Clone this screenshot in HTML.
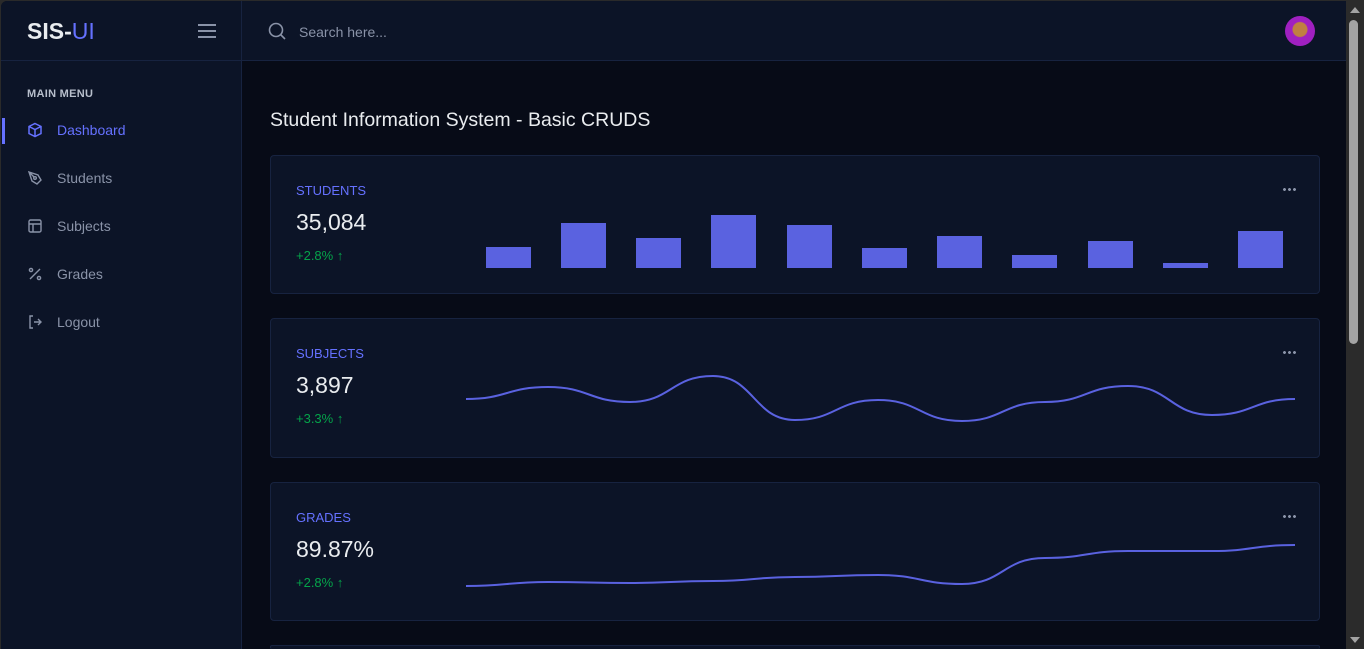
<!DOCTYPE html>
<html><head><meta charset="utf-8"><style>
*{box-sizing:border-box;margin:0;padding:0}
html,body{width:1364px;height:649px;overflow:hidden}
body{background:#2a2a2a;font-family:"Liberation Sans",sans-serif;position:relative}
.win{position:absolute;left:1px;top:1px;width:1345px;height:648px;background:#070b17;overflow:hidden;border-radius:6px 0 0 0}
.side{position:absolute;left:0;top:0;width:241px;height:648px;background:#0c1427;border-right:1px solid #172340}
.logo{height:60px;border-bottom:1px solid #172340;padding:17px 26px;font-size:23px;font-weight:bold;color:#e9ecef}
.logo span{color:#6571ff;font-weight:normal}
.ham{position:absolute;left:197px;top:23px;width:18px}
.ham i{display:block;height:2px;background:#8a93a8;margin-bottom:4px}
.mm{position:absolute;left:26px;top:87px;font-size:11px;font-weight:bold;color:#b8bfcc;letter-spacing:.3px}
.item{position:absolute;left:26px;font-size:14px;color:#8a93a8;display:flex;align-items:center}
.item svg{width:16px;height:16px;margin-right:14px}
.act{color:#6571ff}
.bar{position:absolute;left:1px;top:117px;width:3px;height:26px;background:#6571ff}
.top{position:absolute;left:241px;top:0;right:0;height:60px;background:#0c1427;border-bottom:1px solid #172340}
.search{position:absolute;left:57px;top:23px;font-size:14px;color:#8a93a8}
.av{position:absolute;left:1043px;top:15px;width:30px;height:30px;border-radius:50%;background:radial-gradient(circle at 50% 45%,#c08040 0 7px,#a020c0 8px)}
h1{position:absolute;left:269px;top:108px;font-size:19.5px;font-weight:normal;color:#e9ecef}
.card{position:absolute;left:269px;width:1050px;background:#0c1427;border:1px solid #172340;border-radius:4px}
.lab{position:absolute;left:25px;top:27px;font-size:13px;color:#6571ff}
.val{position:absolute;left:25px;top:53px;font-size:23px;color:#e9ecef}
.pct{position:absolute;left:25px;top:92px;font-size:13px;color:#05a34a}
.dots{position:absolute;right:23px;top:32px;width:14px;height:3px;background:radial-gradient(circle,#8a93a8 1.3px,transparent 1.6px) 0 0/5px 3px repeat-x}
.sb{position:absolute;left:1346px;top:0;width:18px;height:649px;background:#2b2b2b}
.th{position:absolute;left:1349px;top:20px;width:9px;height:324px;background:#a3a3a3;border-radius:5px}
</style></head><body>
<div class="win">
<div class="side">
<div class="logo">SIS-<span>UI</span></div>
<div class="ham"><i></i><i></i><i></i></div>
<div class="mm">MAIN MENU</div>
<div class="bar"></div>
<div class="item act" style="top:121px"><svg viewBox="0 0 16 16" fill="none" stroke="#6571ff" stroke-width="1.5"><path d="M8 1.5l6 3v7l-6 3-6-3v-7z M2 4.5l6 3 6-3 M8 7.5v7"/></svg>Dashboard</div>
<div class="item" style="top:169px"><svg viewBox="0 0 16 16" fill="none" stroke="#8a93a8" stroke-width="1.4"><path d="M2 2l9 3 3 5-4 4-5-3z M2 2l5 5"/><circle cx="8" cy="8" r="1.3"/></svg>Students</div>
<div class="item" style="top:217px"><svg viewBox="0 0 16 16" fill="none" stroke="#8a93a8" stroke-width="1.4"><rect x="2" y="2" width="12" height="12" rx="1.5"/><path d="M2 6h12M6 6v8"/></svg>Subjects</div>
<div class="item" style="top:265px"><svg viewBox="0 0 16 16" fill="none" stroke="#8a93a8" stroke-width="1.4"><path d="M13 3L3 13"/><circle cx="4" cy="4" r="1.6"/><circle cx="12" cy="12" r="1.6"/></svg>Grades</div>
<div class="item" style="top:313px"><svg viewBox="0 0 16 16" fill="none" stroke="#8a93a8" stroke-width="1.4"><path d="M6 2H3v12h3M7 8h7M11 5l3 3-3 3"/></svg>Logout</div>
</div>
<div class="top">
<svg style="position:absolute;left:26px;top:21px" width="18" height="18" viewBox="0 0 18 18" fill="none" stroke="#8a93a8" stroke-width="1.6"><circle cx="8" cy="8" r="6.5"/><path d="M13 13l4 4"/></svg>
<div class="search">Search here...</div>
<div class="av"></div>
</div>
<h1>Student Information System - Basic CRUDS</h1>
<div class="card" style="top:154px;height:139px"><div class="lab">STUDENTS</div><div class="val">35,084</div><div class="pct">+2.8% ↑</div><div class="dots"></div></div>
<div class="card" style="top:317px;height:140px"><div class="lab">SUBJECTS</div><div class="val">3,897</div><div class="pct">+3.3% ↑</div><div class="dots"></div></div>
<div class="card" style="top:481px;height:139px"><div class="lab">GRADES</div><div class="val">89.87%</div><div class="pct">+2.8% ↑</div><div class="dots"></div></div>
<div class="card" style="top:644px;height:4px;border-bottom:none"></div>
</div>
<svg style="position:absolute;left:0;top:0" width="1364" height="649">
<g fill="#5a62e0">
<rect x="486" y="247" width="45" height="21"/><rect x="561" y="223" width="45" height="45"/><rect x="636" y="238" width="45" height="30"/><rect x="711" y="215" width="45" height="53"/><rect x="787" y="225" width="45" height="43"/><rect x="862" y="248" width="45" height="20"/><rect x="937" y="236" width="45" height="32"/><rect x="1012" y="255" width="45" height="13"/><rect x="1088" y="241" width="45" height="27"/><rect x="1163" y="263" width="45" height="5"/><rect x="1238" y="231" width="45" height="37"/>
</g>
<g fill="none" stroke="#5a62e0" stroke-width="2">
<path d="M466 399 C507 399 507 387 548 387 C589 387 589 402 630 402 C671 402 671 376 713 376 C754 376 754 420 795 420 C836 420 836 400 878 400 C920 400 920 421 962 421 C1003 421 1003 402 1045 402 C1086 402 1086 386 1128 386 C1170 386 1170 415 1212 415 C1253 415 1253 399 1295 399"/>
<path d="M466 586 C507 586 507 582 548 582 C589 582 589 583 630 583 C671 583 671 581 713 581 C754 581 754 577 795 577 C836 577 836 575 878 575 C920 575 920 584 962 584 C1003 584 1003 558 1045 558 C1086 558 1086 551 1128 551 C1170 551 1170 551 1212 551 C1253 551 1253 545 1295 545"/>
</g>
</svg>
<div class="sb"></div><div class="th"></div>
<div style="position:absolute;left:1350px;top:7px;width:0;height:0;border-left:5px solid transparent;border-right:5px solid transparent;border-bottom:6px solid #a3a3a3"></div>
<div style="position:absolute;left:1350px;top:637px;width:0;height:0;border-left:5px solid transparent;border-right:5px solid transparent;border-top:6px solid #a3a3a3"></div>
</body></html>
